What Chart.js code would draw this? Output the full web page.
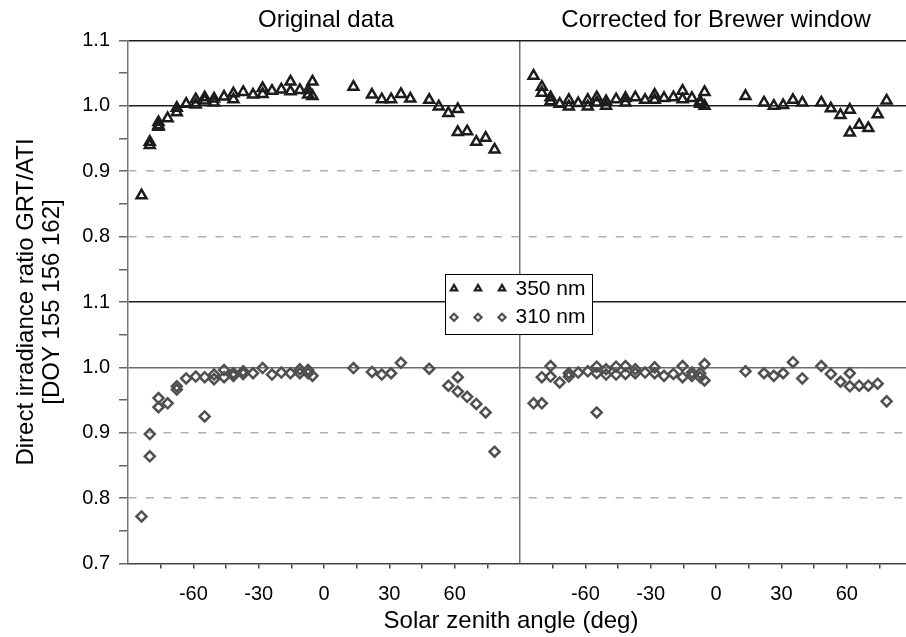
<!DOCTYPE html>
<html><head><meta charset="utf-8">
<script src="https://cdn.jsdelivr.net/npm/chart.js@4.4.0/dist/chart.umd.min.js"></script>
<style>html,body{margin:0;padding:0;background:#fff;overflow:hidden}canvas{display:block}</style>
</head><body>
<canvas id="c" width="906" height="637" style="width:906px;height:637px"></canvas>
<script>
// ---------- data (solar zenith angle in deg, irradiance ratio GRT/ATI) ----------
const origAngle350 = [-83.8,-80.0,-80.0,-76.0,-76.0,-76.0,-71.8,-67.6,-67.6,-63.3,-58.9,-58.9,-54.8,-54.8,-50.5,-50.5,-45.9,-41.6,-41.6,-37.1,-32.6,-28.2,-28.2,-23.9,-19.6,-15.4,-15.4,-11.1,-7.3,-7.3,-5.3,-5.3,13.5,22.0,26.5,30.8,35.3,39.6,48.3,52.7,57.1,61.4,61.4,65.7,69.9,74.2,78.3];
const orig350      = [0.863,0.945,0.940,0.975,0.970,0.968,0.981,0.997,0.990,1.003,1.010,1.002,1.013,1.008,1.011,1.005,1.014,1.019,1.010,1.021,1.017,1.027,1.018,1.023,1.025,1.037,1.022,1.024,1.024,1.017,1.037,1.015,1.029,1.017,1.010,1.010,1.018,1.011,1.009,0.999,0.989,0.995,0.960,0.961,0.945,0.951,0.933];

const corrAngle350 = [-83.8,-80.0,-80.0,-76.0,-76.0,-71.8,-67.6,-67.6,-63.3,-58.9,-58.9,-54.8,-54.8,-50.5,-50.5,-45.9,-41.6,-41.6,-37.1,-32.6,-28.2,-28.2,-23.9,-19.6,-15.4,-15.4,-11.1,-7.3,-7.3,-5.3,-5.3,13.5,22.0,26.5,30.8,35.3,39.6,48.3,52.7,57.1,61.4,61.4,65.7,69.9,74.2,78.3];
const corr350      = [1.046,1.029,1.020,1.013,1.007,1.003,1.009,0.999,1.004,1.009,0.999,1.013,1.005,1.007,1.000,1.010,1.012,1.005,1.013,1.009,1.017,1.009,1.012,1.013,1.023,1.010,1.012,1.007,1.003,1.021,1.000,1.015,1.005,1.000,1.001,1.009,1.005,1.005,0.996,0.986,0.994,0.959,0.971,0.966,0.987,1.008];

const origAngle310 = [-83.8,-80.0,-80.0,-76.0,-76.0,-71.8,-67.6,-67.6,-63.3,-58.9,-54.8,-54.8,-50.5,-50.5,-45.9,-45.9,-41.6,-41.6,-37.1,-37.1,-32.6,-28.2,-23.9,-19.6,-15.4,-11.1,-11.1,-7.3,-7.3,-5.3,13.5,22.0,26.5,30.8,35.3,48.3,57.1,61.4,61.4,65.7,69.9,74.2,78.3];
const orig310      = [0.772,0.898,0.864,0.953,0.939,0.945,0.971,0.966,0.983,0.986,0.985,0.925,0.989,0.982,0.996,0.985,0.991,0.987,0.994,0.990,0.991,0.999,0.989,0.992,0.991,0.997,0.991,0.996,0.991,0.987,0.999,0.993,0.989,0.991,1.007,0.998,0.972,0.985,0.963,0.955,0.944,0.931,0.871];

const corrAngle310 = [-83.8,-80.0,-80.0,-76.0,-76.0,-71.8,-67.6,-67.6,-63.3,-58.9,-54.8,-54.8,-54.8,-50.5,-50.5,-45.9,-45.9,-41.6,-41.6,-37.1,-37.1,-32.6,-28.2,-28.2,-23.9,-19.6,-15.4,-15.4,-11.1,-11.1,-7.3,-7.3,-5.3,-5.3,13.5,22.0,26.5,30.8,35.3,39.6,48.3,52.7,57.1,61.4,61.4,65.7,69.9,74.2,78.3];
const corr310      = [0.945,0.985,0.945,1.002,0.986,0.977,0.991,0.986,0.992,0.994,1.001,0.991,0.931,0.997,0.989,1.001,0.989,1.002,0.990,0.997,0.991,0.992,1.000,0.991,0.987,0.990,1.002,0.985,0.992,0.987,0.991,0.985,1.005,0.980,0.994,0.991,0.987,0.991,1.008,0.983,1.002,0.990,0.978,0.991,0.971,0.972,0.972,0.975,0.948];

// ---------- tick labels ----------
const xTickValues = [-90,-75,-60,-45,-30,-15,0,15,30,45,60,75,90,105,120,135,150,165,180,195,210,225,240,255];
const xTickLabels = ['','','-60','','-30','','0','','30','','60','','','','-60','','-30','','0','','30','','60',''];
const yTickValues = [0.7,0.75,0.8,0.85,0.9,0.95,1.0,1.05,1.1,1.15,1.2,1.25,1.3,1.35,1.4,1.45,1.5];
const yTickLabels = ['0.7','','0.8','','0.9','','1.0','','1.1','','0.8','','0.9','','1.0','','1.1'];

const panelTitles = ['Original data', 'Corrected for Brewer window'];
const xAxisTitle = 'Solar zenith angle (deg)';
const yAxisTitle = ['Direct irradiance ratio GRT/ATI', '[DOY 155 156 162]'];
const legendLabels = ['350 nm', '310 nm'];

// ---------- layout of the two panels on the shared axes ----------
const PANEL_SHIFT = 180;  // right panel drawn 180 deg further along x
const UPPER_SHIFT = 0.4;  // upper (350 nm) panel drawn 0.4 higher on y
const X_MIN = -90, X_MAX = 267.2;

const FONT = "'Liberation Sans', Arial, Helvetica, sans-serif";
Chart.defaults.font.family = FONT;
Chart.defaults.color = '#000';

function pts(xs, ys, dx, dy) { return xs.map((x, i) => ({x: x + dx, y: ys[i] + dy})); }
function yKey(c) { return c.tick ? Math.round(c.tick.value * 100) : -1; }
const DASHED = [80, 90, 120, 130];

const TRI_COLOR = '#1c1c1c';
const DIA_COLOR = '#505050';

const decor = {
  id: 'decor',
  afterDraw(chart) {
    const {ctx, scales: {x}} = chart;
    ctx.save();
    ctx.fillStyle = '#000';
    ctx.font = '24px ' + FONT;
    ctx.textAlign = 'center';
    ctx.textBaseline = 'alphabetic';
    ctx.fillText(panelTitles[0], x.getPixelForValue(0) + 2, 27);
    ctx.fillText(panelTitles[1], x.getPixelForValue(PANEL_SHIFT), 27);
    ctx.fillText(xAxisTitle, 511, 628);

    // legend box
    ctx.fillStyle = '#fff';
    ctx.fillRect(445.5, 274.5, 147, 60);
    ctx.strokeStyle = '#000';
    ctx.lineWidth = 1;
    ctx.strokeRect(445.5, 274.5, 147, 60);
    const rows = [
      {style: 'triangle', color: TRI_COLOR, y: 288.5, ty: 289.5, r: 3.6},
      {style: 'rectRot', color: DIA_COLOR, y: 317.3, ty: 317.5, r: 3.6}
    ];
    rows.forEach((row, i) => {
      [454, 478, 502].forEach(mx => {
        ctx.lineWidth = 2.2;
        ctx.strokeStyle = row.color;
        ctx.fillStyle = 'rgba(0,0,0,0)';
        Chart.helpers.drawPoint(ctx, {pointStyle: row.style, radius: row.r, borderWidth: 2.2, rotation: 0}, mx, row.y);
      });
      ctx.fillStyle = '#000';
      ctx.font = '21px ' + FONT;
      ctx.textAlign = 'left';
      ctx.textBaseline = 'middle';
      ctx.fillText(legendLabels[i], 515.5, row.ty);
    });
    ctx.restore();
  }
};

new Chart(document.getElementById('c'), {
  type: 'scatter',
  data: {
    datasets: [
      {
        label: legendLabels[0],
        data: [...pts(origAngle350, orig350, 0, UPPER_SHIFT), ...pts(corrAngle350, corr350, PANEL_SHIFT, UPPER_SHIFT)],
        pointStyle: 'triangle', pointRadius: 5.7, pointBorderWidth: 2.5,
        pointBorderColor: TRI_COLOR, pointBackgroundColor: 'rgba(0,0,0,0)'
      },
      {
        label: legendLabels[1],
        data: [...pts(origAngle310, orig310, 0, 0), ...pts(corrAngle310, corr310, PANEL_SHIFT, 0)],
        pointStyle: 'rectRot', pointRadius: 5, pointBorderWidth: 2.5,
        pointBorderColor: DIA_COLOR, pointBackgroundColor: 'rgba(0,0,0,0)'
      }
    ]
  },
  options: {
    responsive: false,
    animation: false,
    layout: {autoPadding: false, padding: {top: 40.5, left: 0, right: 0, bottom: 0}},
    plugins: {legend: {display: false}, tooltip: {enabled: false}},
    scales: {
      x: {
        type: 'linear', min: X_MIN, max: X_MAX,
        afterBuildTicks: s => { s.ticks = xTickValues.map(v => ({value: v})); },
        afterFit: s => { s.height = 73.5; s.paddingLeft = 0; s.paddingRight = 0; },
        ticks: {autoSkip: false, maxRotation: 0, padding: 14, font: {size: 20}, color: '#000',
                callback: (v, i) => xTickLabels[i]},
        grid: {
          drawOnChartArea: true,
          color: c => (c.tick && c.tick.value === 90) ? '#6e6e6e' : 'rgba(0,0,0,0)',
          lineWidth: 1.5,
          tickLength: 5, tickWidth: 1.5,
          tickColor: c => (c.tick && (c.tick.value === -90 || c.tick.value === 90)) ? 'rgba(0,0,0,0)' : '#444'
        },
        border: {color: '#444', width: 1.5}
      },
      y: {
        type: 'linear', min: 0.7, max: 1.5,
        afterBuildTicks: s => { s.ticks = yTickValues.map(v => ({value: v})); },
        afterFit: s => { s.width = 128; },
        ticks: {autoSkip: false, padding: 9, font: {size: 20}, color: '#000',
                callback: (v, i) => yTickLabels[i]},
        grid: {
          color: c => {
            const k = yKey(c);
            if (k === 150 || k === 140 || k === 110) return '#1e1e1e';
            if (k === 100) return '#6a6a6a';
            if (DASHED.includes(k)) return '#b0b0b0';
            return 'rgba(0,0,0,0)';
          },
          borderDash: c => DASHED.includes(yKey(c)) ? [8, 9.4] : [],
          lineWidth: 1.5,
          tickLength: 9, tickWidth: 1.5, tickColor: '#666'
        },
        border: {color: '#777', width: 1.5, dash: c => DASHED.includes(yKey(c)) ? [8, 9.4] : []},
        title: {display: true, text: yAxisTitle, color: '#000',
                font: {size: 24, lineHeight: 1.1}, padding: {top: 13, bottom: 0}}
      }
    }
  },
  plugins: [decor]
});
</script>
</body></html>
